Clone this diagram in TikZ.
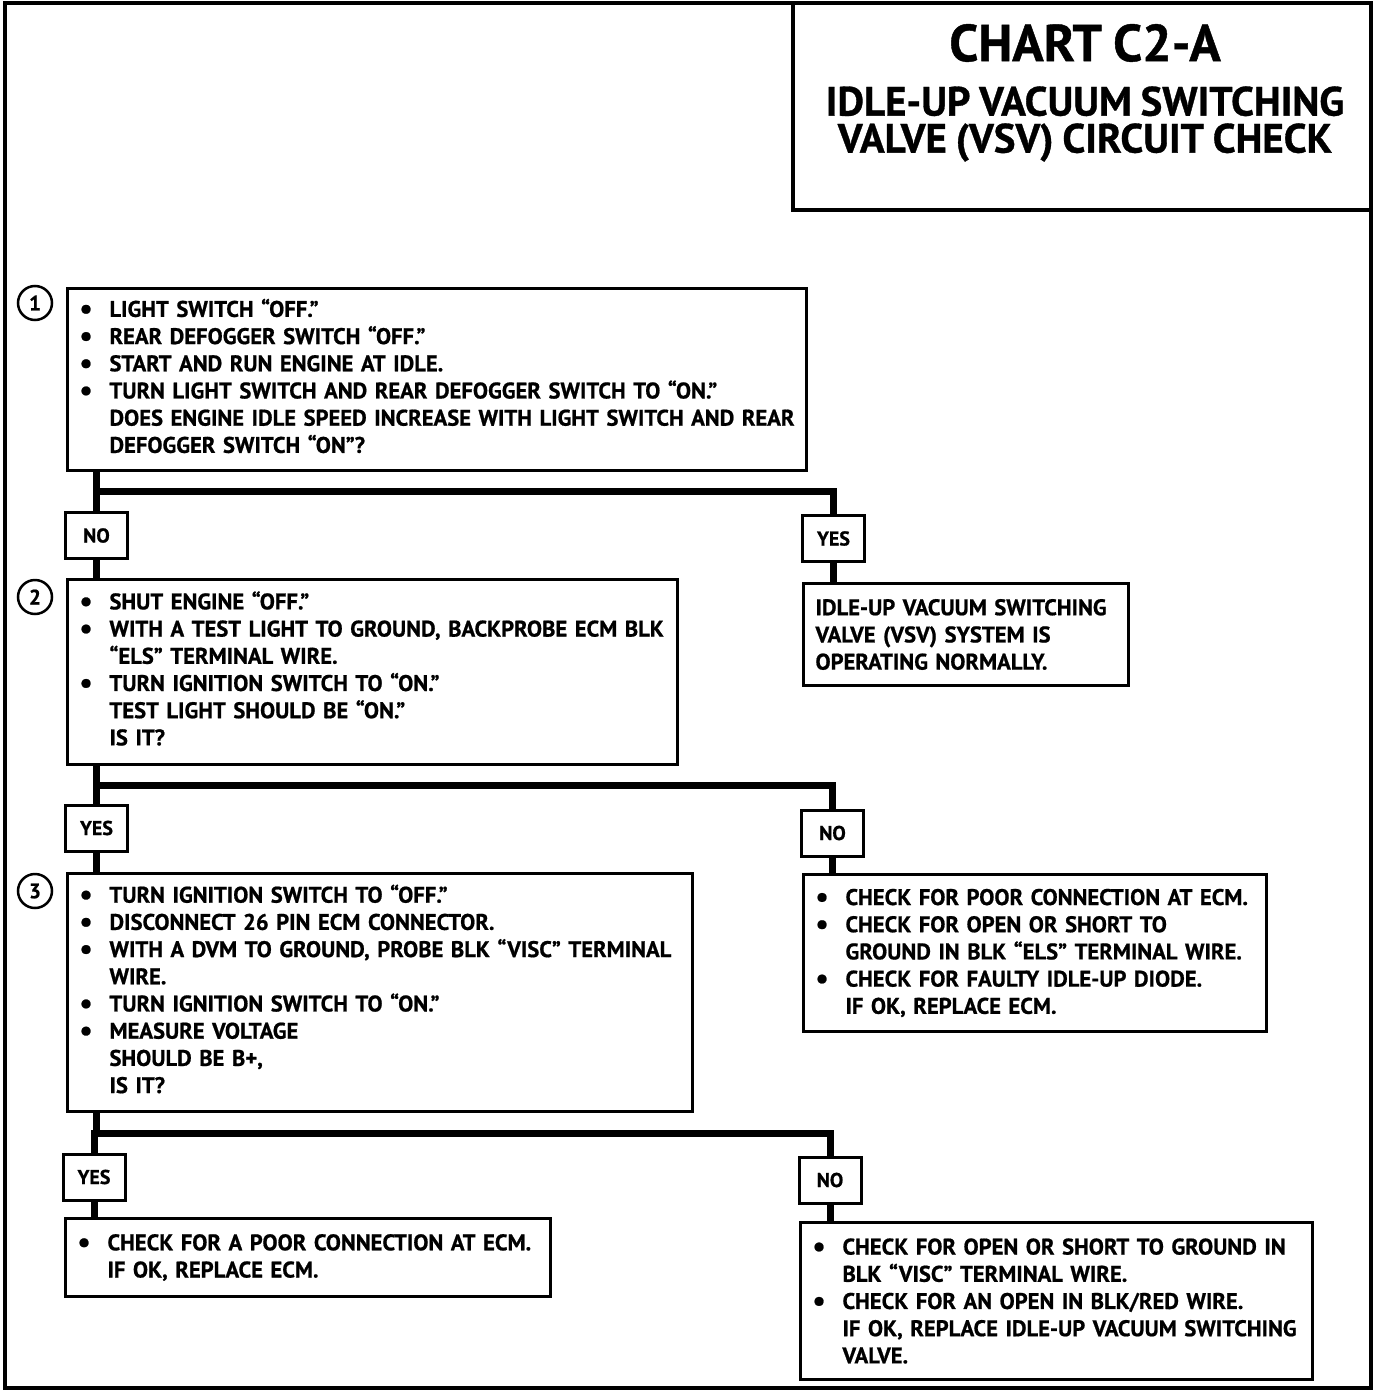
\documentclass[tikz,border=0pt]{standalone}
\usepackage{fontspec}
\setmainfont{PT Sans}[WordSpace=0.85,BoldFeatures={FakeBold=0.8}]
\usetikzlibrary{positioning}

% bullet line and continuation line
\newcommand\bul{\raisebox{-1.5pt}{\fontsize{29}{0}\selectfont\textbullet}}
\newcommand\itm[1]{\mbox{\makebox[30pt][l]{\bul}#1}}
\newcommand\cnt[1]{\mbox{\hspace{30pt}#1}}
\newcommand\botgap{\par\vspace*{7pt}}

\begin{document}
\begin{tikzpicture}[x=1pt,y=-1pt,line join=miter,
    font=\bfseries\fontsize{22.6}{27.2}\selectfont,
    chk/.style={draw,line width=3pt,anchor=north west,align=left,
      inner xsep=12pt,inner ysep=0pt},
    lift/.style={execute at end node=\botgap},
    ans/.style={draw,line width=3pt,minimum width=62pt,minimum height=46pt,
      inner sep=0pt,font=\bfseries\fontsize{20}{20}\selectfont},
    num/.style={draw,circle,line width=2.5pt,minimum size=34pt,inner sep=0pt,
      font=\bfseries\fontsize{21}{21}\selectfont},
    wire/.style={line width=7pt}]
  \useasboundingbox (0,0) rectangle (1392,1392);

  % frame and title
  \draw[line width=4pt] (5,2.5) rectangle (1371,1388);
  \draw[line width=3.5pt] (793,2.5) |- (1371,210);
  \node[font=\bfseries\fontsize{52}{52}\selectfont] (ttl) at (1085,43) {CHART C2-A};
  \node[align=center,font=\bfseries\fontsize{41}{37}\selectfont] (sub) at (1085,124)
    {IDLE-UP VACUUM SWITCHING\\VALVE (VSV) CIRCUIT CHECK};

  % step 1
  \node[num] (n1) at (35,303) {1};
  \node[chk,lift,text width=715pt,minimum height=182pt] (b1) at (66,287)
    {\itm{LIGHT SWITCH “OFF.”}\\
     \itm{REAR DEFOGGER SWITCH “OFF.”}\\
     \itm{START AND RUN ENGINE AT IDLE.}\\
     \itm{TURN LIGHT SWITCH AND REAR DEFOGGER SWITCH TO “ON.”}\\
     \cnt{DOES ENGINE IDLE SPEED INCREASE WITH LIGHT SWITCH AND REAR}\\
     \cnt{DEFOGGER SWITCH “ON”?}};
  \node[ans] (no1) at (96.5,535.5) {NO};
  \node[ans] (yes1) at (833.5,538.5) {YES};
  \node[chk,text width=301pt,minimum height=102pt] (ok1) at (802,582)
    {IDLE-UP VACUUM SWITCHING\\
     VALVE (VSV) SYSTEM IS\\
     OPERATING NORMALLY.};

  % step 2
  \node[num] (n2) at (35,597) {2};
  \node[chk,lift,text width=586pt,minimum height=185pt] (b2) at (66,578)
    {\itm{SHUT ENGINE “OFF.”}\\
     \itm{WITH A TEST LIGHT TO GROUND, BACKPROBE ECM BLK}\\
     \cnt{“ELS” TERMINAL WIRE.}\\
     \itm{TURN IGNITION SWITCH TO “ON.”}\\
     \cnt{TEST LIGHT SHOULD BE “ON.”}\\
     \cnt{IS IT?}};
  \node[ans] (yes2) at (96.5,828) {YES};
  \node[ans] (no2) at (832.5,833) {NO};
  \node[chk,text width=439pt,minimum height=157pt] (fix2) at (802,873)
    {\itm{CHECK FOR POOR CONNECTION AT ECM.}\\
     \itm{CHECK FOR OPEN OR SHORT TO}\\
     \cnt{GROUND IN BLK “ELS” TERMINAL WIRE.}\\
     \itm{CHECK FOR FAULTY IDLE-UP DIODE.}\\
     \cnt{IF OK, REPLACE ECM.}};

  % step 3
  \node[num] (n3) at (35,891) {3};
  \node[chk,lift,text width=601pt,minimum height=238pt] (b3) at (66,872)
    {\itm{TURN IGNITION SWITCH TO “OFF.”}\\
     \itm{DISCONNECT 26 PIN ECM CONNECTOR.}\\
     \itm{WITH A DVM TO GROUND, PROBE BLK “VISC” TERMINAL}\\
     \cnt{WIRE.}\\
     \itm{TURN IGNITION SWITCH TO “ON.”}\\
     \itm{MEASURE VOLTAGE}\\
     \cnt{SHOULD BE B+,}\\
     \cnt{IS IT?}};
  \node[ans] (yes3) at (94,1177) {YES};
  \node[ans] (no3) at (830,1180) {NO};
  \node[chk,text width=461pt,minimum height=78pt] (fix3a) at (64,1217)
    {\itm{CHECK FOR A POOR CONNECTION AT ECM.}\\
     \cnt{IF OK, REPLACE ECM.}};
  \node[chk,text width=488pt,minimum height=157pt] (fix3b) at (799,1221)
    {\itm{CHECK FOR OPEN OR SHORT TO GROUND IN}\\
     \cnt{BLK “VISC” TERMINAL WIRE.}\\
     \itm{CHECK FOR AN OPEN IN BLK/RED WIRE.}\\
     \cnt{IF OK, REPLACE IDLE-UP VACUUM SWITCHING}\\
     \cnt{VALVE.}};

  % connectors
  \coordinate (j1) at (96.5,491);
  \coordinate (j2) at (96.5,785);
  \coordinate (j3) at (96.5,1133);
  \draw[wire] (b1.south -| no1) -- (no1.north);
  \draw[wire] (j1) -| (yes1.north);
  \draw[wire] (no1.south) -- (b2.north -| no1);
  \draw[wire] (yes1.south) -- (ok1.north -| yes1);
  \draw[wire] (b2.south -| yes2) -- (yes2.north);
  \draw[wire] (j2) -| (no2.north);
  \draw[wire] (yes2.south) -- (b3.north -| yes2);
  \draw[wire] (no2.south) -- (fix2.north -| no2);
  \draw[wire] (b3.south -| j3) -- (j3) -| (yes3.north);
  \draw[wire] (j3) -| (no3.north);
  \draw[wire] (yes3.south) -- (fix3a.north -| yes3);
  \draw[wire] (no3.south) -- (fix3b.north -| no3);
\end{tikzpicture}
\end{document}
